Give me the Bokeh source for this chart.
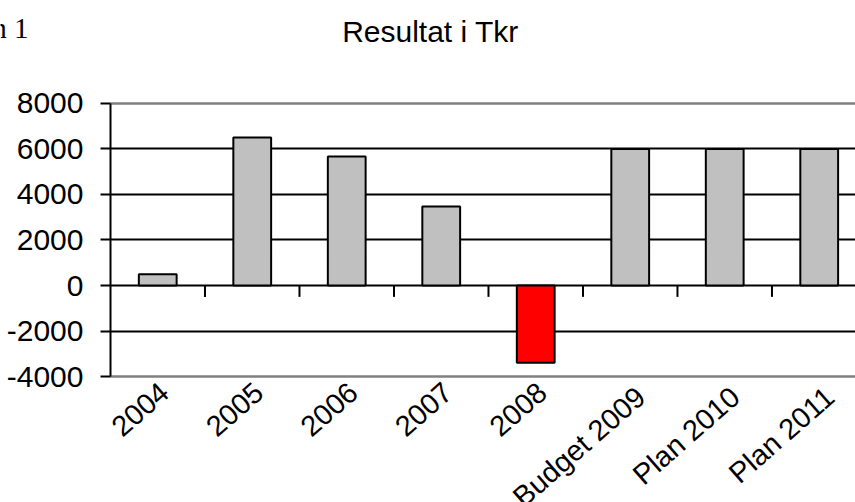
from bokeh.plotting import figure
from bokeh.models import Range1d, FixedTicker, Grid, Label
from bokeh.core.properties import value
from bokeh.embed import file_html
from bokeh.resources import INLINE

# ---- data ----
categories = ["2004", "2005", "2006", "2007", "2008", "Budget 2009", "Plan 2010", "Plan 2011"]
results = [500, 6500, 5670, 3470, -3400, 6000, 6000, 6000]
y_ticks = [-4000, -2000, 0, 2000, 4000, 6000, 8000]
y_tick_labels = ["-4000", "-2000", "0", "2000", "4000", "6000", "8000"]
title_text = "Resultat i Tkr"
corner_text = "n 1"

centers = [i + 0.5 for i in range(len(categories))]
boundaries = list(range(1, len(categories)))
colors = ["#FF0000" if v < 0 else "#C0C0C0" for v in results]

W, H = 855, 502
X_END = 7.884
p = figure(width=W, height=H, output_backend="svg", toolbar_location=None,
           x_range=Range1d(-1.164, X_END), y_range=Range1d(-9538, 12527),
           x_axis_location=None, min_border_left=0, min_border_right=0,
           min_border_top=0, min_border_bottom=0)
p.outline_line_color = None
p.background_fill_color = "white"
p.border_fill_color = "white"

# y axis (drawn at category-axis origin)
ax = p.yaxis[0]
ax.fixed_location = 0
ax.bounds = (y_ticks[0], y_ticks[-1])
ax.ticker = FixedTicker(ticks=y_ticks)
ax.major_label_overrides = {t: l for t, l in zip(y_ticks, y_tick_labels)}
ax.axis_line_color = "black"
ax.axis_line_width = 2
ax.major_tick_line_color = "black"
ax.major_tick_line_width = 2
ax.major_tick_out = 10
ax.major_tick_in = 0
ax.minor_tick_line_color = None
ax.major_label_standoff = 17
ax.major_label_text_font = "Liberation Sans"
ax.major_label_text_font_size = "30px"
ax.major_label_text_color = "black"

# grids
has_cross = "cross_bounds" in Grid.properties()
p.xgrid.visible = False
p.ygrid.ticker = FixedTicker(ticks=[t for t in y_ticks if t not in (y_ticks[0], y_ticks[-1])])
p.ygrid.grid_line_color = "black"
p.ygrid.grid_line_width = 2
border_grid = Grid(dimension=1, ticker=FixedTicker(ticks=[y_ticks[0], y_ticks[-1]]),
                   grid_line_color="#808080", grid_line_width=2.5)
if has_cross:
    p.ygrid.cross_bounds = (0, X_END)
    border_grid.cross_bounds = (0, X_END)
p.add_layout(border_grid)

# bars
p.vbar(x=centers, width=0.4, top=results, bottom=0, fill_color=colors,
       line_color="black", line_width=2)

# category tick marks on the zero line
p.segment(x0=boundaries, y0=[0] * len(boundaries), x1=boundaries,
          y1=[-500] * len(boundaries), line_color="black", line_width=2)

# category labels
p.text(x=centers, y=[y_ticks[0]] * len(categories), text=categories,
       angle=0.72, text_align="right", text_baseline="top",
       x_offset=0, y_offset=4, text_font=value("Liberation Sans"),
       text_font_size="29px", text_color="black")

# title and corner text
p.add_layout(Label(x=430, y=471, x_units="screen", y_units="screen", text=title_text,
                   text_align="center", text_baseline="middle",
                   text_font="Liberation Sans", text_font_size="30px", text_color="black"))
p.add_layout(Label(x=28, y=475, x_units="screen", y_units="screen", text=corner_text,
                   text_align="right", text_baseline="alphabetic",
                   text_font="Liberation Serif", text_font_size="29px", text_color="black"))

open("out.html", "w").write(file_html(p, INLINE))
